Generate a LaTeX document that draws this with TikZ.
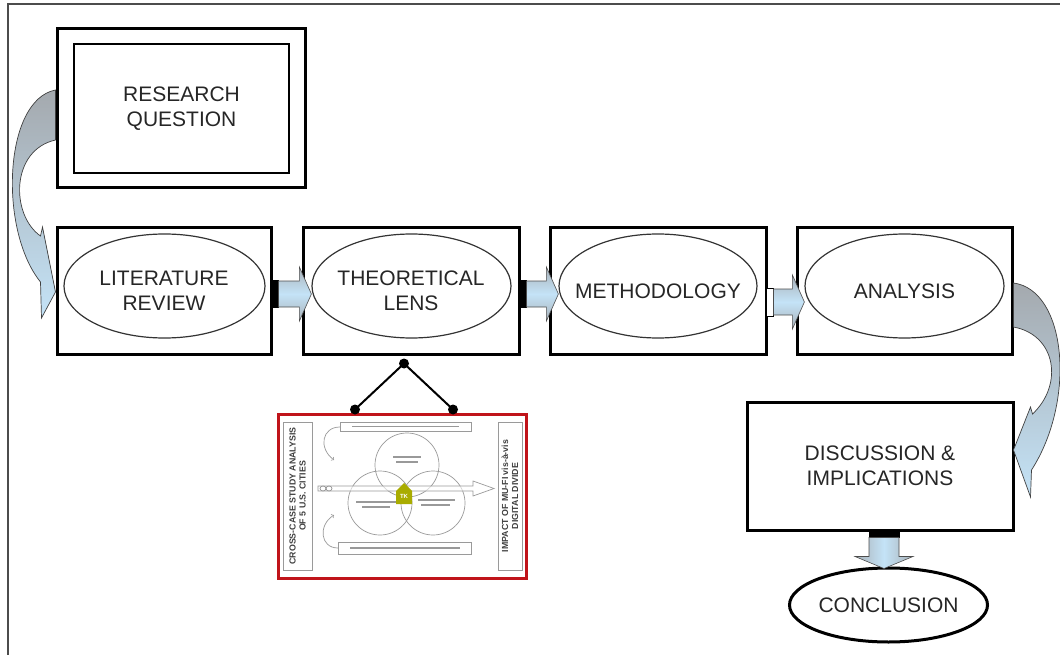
\documentclass[tikz,border=0pt]{standalone}
\usepackage{fontspec}
\setmainfont{Liberation Sans}
\usetikzlibrary{calc,shapes.geometric}

\definecolor{agray}{HTML}{A4A9AE}
\definecolor{ablue}{HTML}{C4E3F7}
\definecolor{redframe}{HTML}{C0141A}
\definecolor{tkolive}{HTML}{A9AC00}
\definecolor{thin}{HTML}{9A9A9A}

\newcommand\stagefont{\fontsize{21}{25}\selectfont}

\tikzset{
  stagebox/.style={draw=black, line width=3pt, rectangle, minimum width=#1,
    minimum height=126pt, inner sep=0pt, align=center, font=\stagefont, text=black!85},
  lens/.style={draw=black!80, line width=1.2pt, ellipse, minimum height=104pt, inner sep=0pt},
  flowfill/.style={draw=black!70, line width=0.6pt, top color=agray!85!ablue,
    bottom color=agray!85!ablue, middle color=ablue},
  downfill/.style={draw=black!70, line width=0.6pt, left color=agray!85!ablue,
    right color=agray!85!ablue, middle color=ablue},
  bendfill/.style={draw=black!75, line width=0.7pt, top color=agray, bottom color=ablue},
  solidcap/.style={fill=black},
  opencap/.style={draw=black, line width=1pt, fill=white},
  sketchline/.style={draw=thin, line width=0.7pt},
  sketchtext/.style={draw=black!40, line width=1.2pt},
  paneltext/.style={rotate=90, font=\bfseries\fontsize{8.8}{10}\selectfont, text=black!75, align=center},
  dot/.style={fill=black}
}

% block arrow from the right side of one stage box into the next lens
\newcommand\flowstep[4]{%
  \path[#4] let \p1=(#1.east) in
    (\x1-1.5pt,\y1-#3pt+14pt) rectangle (\x1+6pt,\y1-#3pt-14pt);
  \path[flowfill] let \p1=(#1.east), \p2=(#2.west) in
    (\x1+6pt,\y1-#3pt+13pt) -- (\x2-12pt,\y1-#3pt+13pt) -- (\x2-12pt,\y1-#3pt+27pt)
    -- (\x2,\y1-#3pt) -- (\x2-12pt,\y1-#3pt-27pt) -- (\x2-12pt,\y1-#3pt-13pt)
    -- (\x1+6pt,\y1-#3pt-13pt) -- cycle;}

\begin{document}
\begin{tikzpicture}[x=1pt,y=-1pt]
\useasboundingbox (0,0) rectangle (1060,655);

% page frame
\draw[black!70, line width=1.5pt] (8,4) rectangle (1090,690);

% research question
\node[stagebox=248pt, minimum height=159pt] (rq) at (181,108.5) {};
\node[draw=black, line width=1.6pt, minimum width=215pt, minimum height=129pt,
  inner sep=0pt, align=center, font=\stagefont, text=black!85] (rqin) at (181.5,108.5)
  {RESEARCH\\QUESTION};

% main stages
\node[stagebox=214pt] (lr) at (164,291) {LITERATURE\\REVIEW};
\node[lens, minimum width=201pt] (lre) at (164.5,286) {};
\node[stagebox=216pt] (tl) at (411,291) {THEORETICAL\\LENS};
\node[lens, minimum width=199pt] (tle) at (411.5,286) {};
\node[stagebox=216pt] (me) at (658,291) {METHODOLOGY};
\node[lens, minimum width=198pt] (mee) at (658,286) {};
\node[stagebox=215pt] (an) at (904.5,291) {ANALYSIS};
\node[lens, minimum width=199pt] (ane) at (904.5,286) {};

\node[stagebox=266pt, minimum height=128pt] (dis) at (880,466) {DISCUSSION \&\\IMPLICATIONS};
\node[lens, draw=black, line width=3pt, minimum width=183pt, minimum height=74pt,
  font=\stagefont, text=black!85] (con) at (888.5,605) {CONCLUSION};

% straight block arrows
\flowstep{lr}{tle}{3}{solidcap}
\flowstep{tl}{mee}{3}{solidcap}
\flowstep{me}{ane}{11}{opencap}

% down arrow to the conclusion
\path[solidcap] let \p1=(dis.south) in
  (\x1-11.5pt,\y1+1.5pt) rectangle (\x1+19.5pt,\y1-6pt);
\path[downfill] let \p1=(dis.south), \p2=(con.north) in
  (\x1-11pt,\y1-6pt) -- (\x1-11pt,\y2+10pt) -- (\x1-25pt,\y2+10pt) -- (\x1+4pt,\y2-2pt)
  -- (\x1+33pt,\y2+10pt) -- (\x1+19pt,\y2+10pt) -- (\x1+19pt,\y1-6pt) -- cycle;

% curved arrow: research question -> literature review
\begin{scope}[shift={(lr.west)}]
  \path[bendfill] (0,-201) .. controls (-52,-191) and (-57,-61) .. (-15,-9)
    -- (-14,27) -- (0,1) -- (-13,-64) -- (-15,-55)
    .. controls (-45,-76) and (-45,-141) .. (0,-151) -- cycle;
\end{scope}

% curved arrow: analysis -> discussion
\begin{scope}[shift={(an.east)}]
  \path[bendfill] (0,-8) .. controls (53,-1) and (63,109) .. (18,179)
    -- (17,206) -- (0,159) -- (17,116) -- (19,123)
    .. controls (50,94) and (43,44) .. (0,36) -- cycle;
\end{scope}

% framework sketch under the theoretical lens
\node[draw=redframe, line width=3pt, fill=white, minimum width=248pt, minimum height=164pt,
  inner sep=0pt] (thumb) at (402,496) {};

\node[sketchline, rectangle, minimum width=29pt, minimum height=148pt, inner sep=0pt]
  (cs) at (297.5,496) {};
\node[paneltext] (cstext) at (cs) {CROSS-CASE STUDY ANALYSIS\\OF 5 U.S. CITIES};
\node[sketchline, rectangle, minimum width=24pt, minimum height=148pt, inner sep=0pt]
  (imp) at (510,496) {};
\node[paneltext] (imptext) at (imp) {IMPACT OF MU-FI vis-à-vis\\DIGITAL DIVIDE};

\node[sketchline, rectangle, minimum width=131pt, minimum height=9pt, inner sep=0pt]
  (topbar) at (405.5,426.5) {};
\node[sketchline, rectangle, minimum width=133pt, minimum height=12pt, inner sep=0pt]
  (botbar) at (404.5,548) {};
\draw[sketchtext] (352,426.5) -- (459,426.5);
\draw[sketchtext] (350,548) -- (460,548);

% overlapping circles
\draw[sketchline] (407,465) circle[radius=32pt];
\draw[sketchline] (380,503) circle[radius=32pt];
\draw[sketchline] (433,503) circle[radius=32pt];
\draw[sketchtext] (393,457) -- (421,457);
\draw[sketchtext] (396,462) -- (418,462);
\draw[sketchtext] (356,502) -- (396,502);
\draw[sketchtext] (362,507) -- (390,507);
\draw[sketchtext] (418,500) -- (455,500);
\draw[sketchtext] (421,505) -- (450,505);

% arrow running through the circles
\draw[sketchline, fill=white, fill opacity=0.6] (318,486) -- (473,486) -- (473,481) -- (494,488.5)
  -- (473,496) -- (473,491) -- (318,491) -- cycle;
\draw[sketchline] (323,488.5) ellipse[x radius=3pt, y radius=2.5pt];
\draw[sketchline] (329,488.5) ellipse[x radius=3pt, y radius=2.5pt];

% curved feedback arrows on the left
\draw[sketchline, ->] (340,427) .. controls (322,427) and (318,448) .. (334,460);
\draw[sketchline, ->] (338,548) .. controls (320,548) and (318,525) .. (334,515);

% core marker
\fill[tkolive] (396,504) -- (396,491) -- (404,483) -- (412,491) -- (412,504) -- cycle;
\node[font=\bfseries\fontsize{6}{6}\selectfont, text=white, inner sep=0pt] (tk) at (404,496) {TK};

% link from the theoretical lens to the sketch
\coordinate (hub) at ($(tl.south)+(-7,8)$);
\coordinate (pl) at ($(thumb.north)+(-47,-3)$);
\coordinate (pr) at ($(thumb.north)+(51,-3)$);
\draw[line width=2pt] (pl) -- (hub) -- (pr);
\fill[dot] (hub) circle[radius=5pt];
\fill[dot] (pl) circle[radius=5pt];
\fill[dot] (pr) circle[radius=5pt];
\end{tikzpicture}
\end{document}
